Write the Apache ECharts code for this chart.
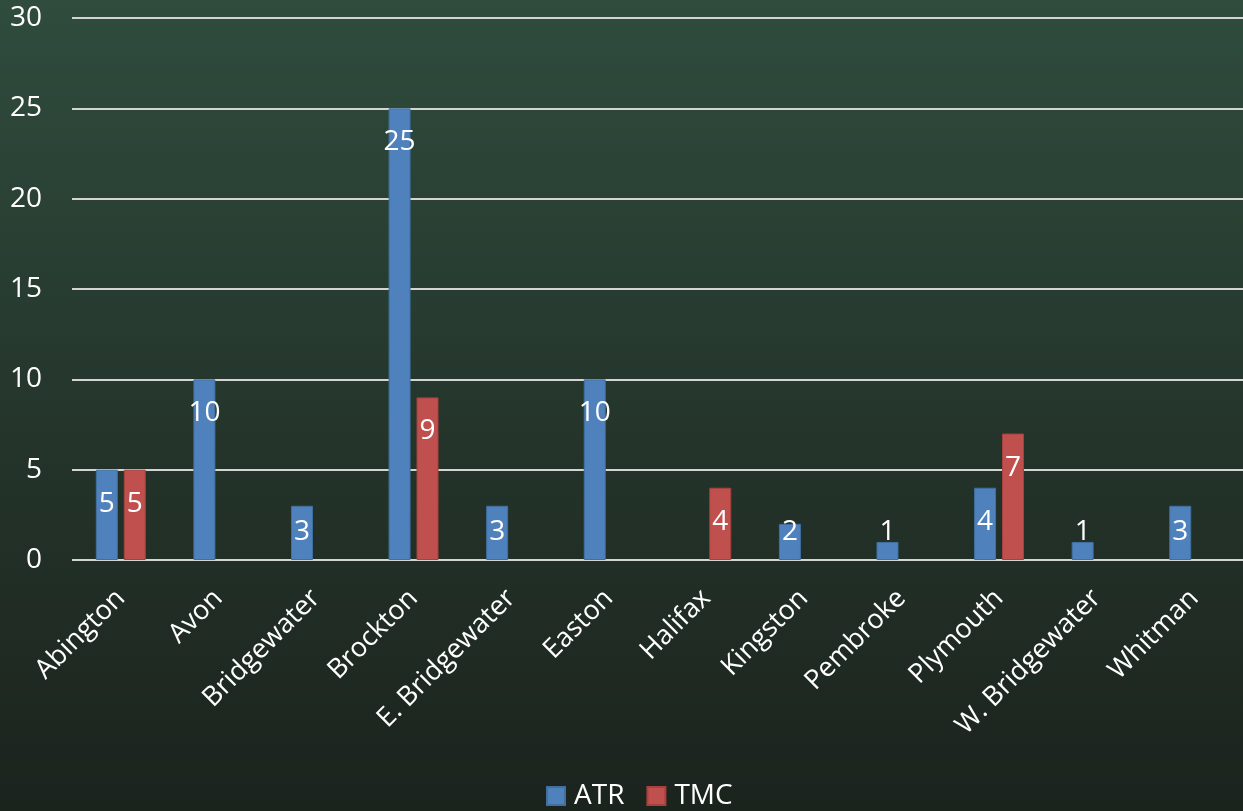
<!DOCTYPE html>
<html>
<head>
<meta charset="utf-8">
<script src="https://cdn.jsdelivr.net/npm/echarts@6/dist/echarts.min.js"></script>
<style>
html,body{margin:0;padding:0;width:1243px;height:811px;overflow:hidden;}
#c{width:1243px;height:811px;}
</style>
</head>
<body>
<div id="c"></div>
<script>
const categories = ['Abington','Avon','Bridgewater','Brockton','E. Bridgewater','Easton','Halifax','Kingston','Pembroke','Plymouth','W. Bridgewater','Whitman'];
const atrValues = [5, 10, 3, 25, 3, 10, null, 2, 1, 4, 1, 3];
const tmcValues = [5, null, null, 9, null, null, 4, null, null, 7, null, null];
const seriesNames = ['ATR', 'TMC'];
const yTicks = { min: 0, max: 30, interval: 5 };

const FONT = '"Open Sans", "Noto Sans", sans-serif';

function toData(arr) {
  return arr.map(v => {
    if (v == null) return '-';
    if (v <= 3) {
      return { value: v, label: { position: 'insideBottom', distance: 14 } };
    }
    return { value: v };
  });
}

const labelBase = {
  show: true,
  position: 'insideTop',
  distance: 20,
  color: '#ffffff',
  fontSize: 28,
  fontFamily: FONT
};

const chart = echarts.init(document.getElementById('c'), null, { renderer: 'canvas' });
chart.setOption({
  backgroundColor: {
    type: 'linear', x: 0, y: 0, x2: 0, y2: 1,
    colorStops: [
      { offset: 0, color: '#2f4c3d' },
      { offset: 0.55, color: '#24342a' },
      { offset: 1, color: '#1b231d' }
    ]
  },
  animation: false,
  grid: { left: 72, right: 0, top: 18, bottom: 251, containLabel: false },
  legend: {
    data: seriesNames,
    bottom: -4,
    left: 541,
    itemWidth: 18,
    itemHeight: 18,
    itemGap: 22,
    icon: 'rect',
    textStyle: { color: '#ffffff', fontSize: 28, fontFamily: FONT, padding: [0, 0, 0, 4] }
  },
  xAxis: {
    type: 'category',
    data: categories,
    axisLine: { show: false },
    axisTick: { show: false },
    axisLabel: {
      rotate: 45,
      interval: 0,
      margin: 34,
      color: '#ffffff',
      fontSize: 27,
      fontFamily: FONT
    }
  },
  yAxis: {
    type: 'value',
    min: yTicks.min,
    max: yTicks.max,
    interval: yTicks.interval,
    axisLine: { show: false },
    axisTick: { show: false },
    axisLabel: { color: '#ffffff', fontSize: 28, fontFamily: FONT, margin: 30 },
    splitLine: { lineStyle: { color: '#d4d4d4', width: 2 } }
  },
  series: [
    {
      name: seriesNames[0],
      type: 'bar',
      data: toData(atrValues),
      barWidth: 22,
      barGap: '27%',
      itemStyle: { color: '#4f81bd', borderColor: '#41709f', borderWidth: 1 },
      label: labelBase
    },
    {
      name: seriesNames[1],
      type: 'bar',
      data: toData(tmcValues),
      barWidth: 22,
      barGap: '27%',
      itemStyle: { color: '#c0504d', borderColor: '#a6413e', borderWidth: 1 },
      label: labelBase
    }
  ]
});
</script>
</body>
</html>
